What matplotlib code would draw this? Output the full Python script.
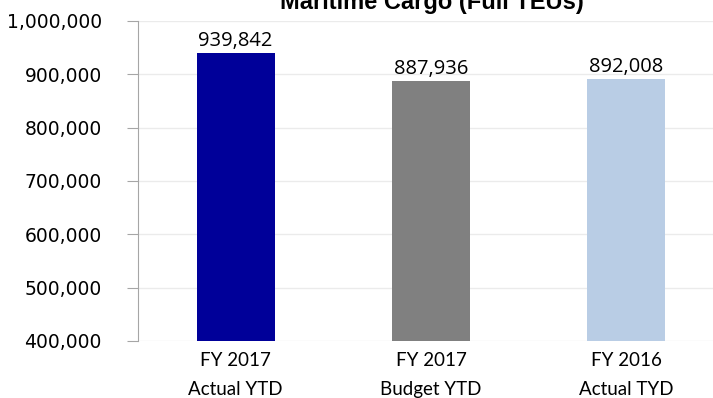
import matplotlib.pyplot as plt
from matplotlib.ticker import FuncFormatter

# data
categories = ["FY 2017\nActual YTD", "FY 2017\nBudget YTD", "FY 2016\nActual TYD"]
values = [939842, 887936, 892008]
colors = ["#000099", "#808080", "#b9cde5"]
title = "Maritime Cargo (Full TEUs)"

fig = plt.figure(figsize=(7.13, 3.98), dpi=100)
ax = fig.add_axes([138 / 713, 57 / 398, 586 / 713, 320 / 398])

x = range(len(categories))
bars = ax.bar(x, values, width=0.40, color=colors, zorder=2)

ax.set_ylim(400000, 1000000)
ax.set_xlim(-0.5, 2.5)
ax.set_yticks(range(400000, 1000001, 100000))
ax.yaxis.set_major_formatter(FuncFormatter(lambda v, p: f"{int(v):,}"))
ax.set_xticks(list(x))
ax.set_xticklabels(categories, fontsize=13.5, family="Lato", linespacing=1.85)

ax.grid(axis="y", color="#ebebeb", linewidth=1, zorder=0)
for s in ["top", "right", "bottom"]:
    ax.spines[s].set_visible(False)
ax.spines["left"].set_color("#a6a6a6")
ax.tick_params(axis="y", colors="#a6a6a6", labelcolor="black", length=8,
               labelsize=13.5, pad=18)
ax.tick_params(axis="x", length=0, pad=8)
for lab in ax.get_yticklabels():
    lab.set_family("DejaVu Sans")

for b, v in zip(bars, values):
    ax.text(b.get_x() + b.get_width() / 2, v + 3000, f"{v:,}",
            ha="center", va="bottom", fontsize=14.5, family="Open Sans")

fig.text(432 / 713, 1 - 9 / 398, title, ha="center", va="baseline",
         fontsize=17, fontweight="bold", family="Liberation Sans")

fig.savefig("out.png", dpi=100)
